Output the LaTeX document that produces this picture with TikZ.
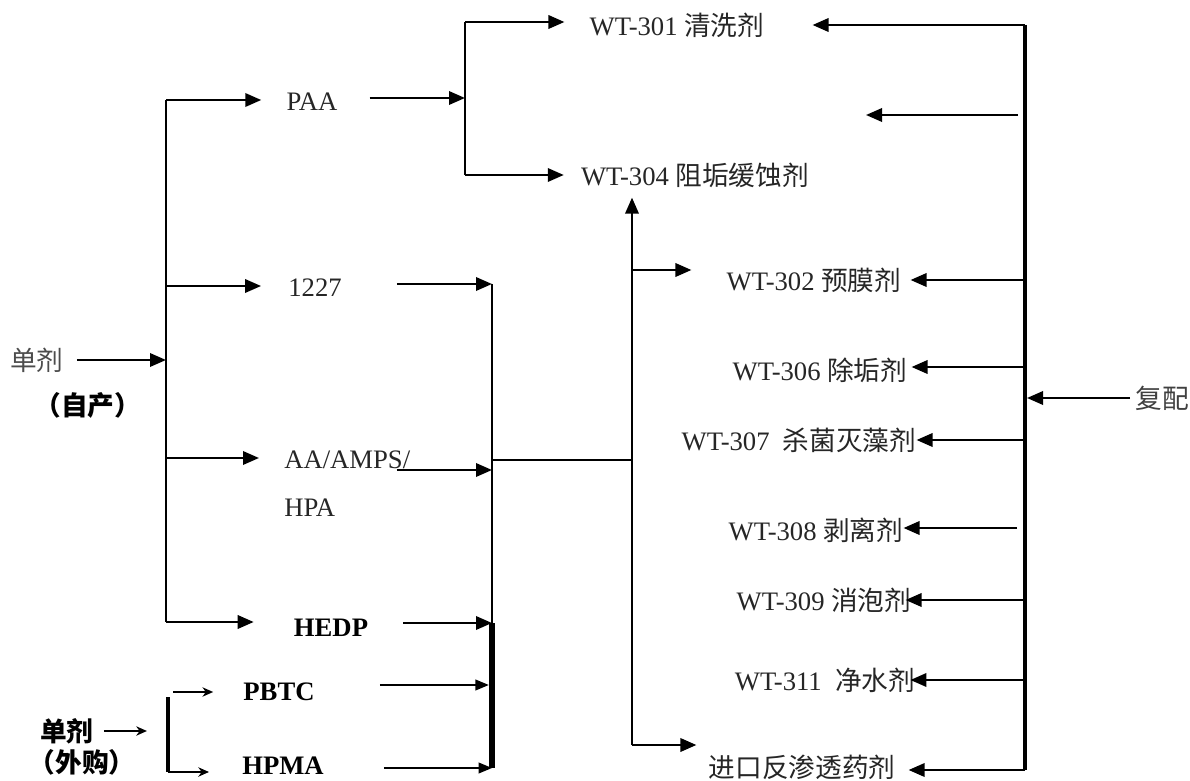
\documentclass[tikz,border=0pt]{standalone}
\usepackage{fontspec}
\setmainfont{Liberation Serif}
\newfontfamily\cjk{Noto Sans CJK SC}
\usetikzlibrary{arrows.meta,calc}
\begin{document}
\begin{tikzpicture}[x=0.75pt,y=-0.75pt,
  lbl/.style={inner sep=0pt,font=\fontsize{20}{24}\selectfont,text=black!85},
  blbl/.style={lbl,font=\fontsize{20}{24}\selectfont\bfseries,text=black},
  ln/.style={line width=1.8pt},
  thinln/.style={line width=1.2pt},
  arr/.style={ln,-{Triangle[length=12pt,width=10pt]}},
  sarr/.style={thinln,-{Triangle[length=10pt,width=8pt]}},
  oarr/.style={thinln,-{Stealth[length=8pt,width=7pt,inset=2.5pt]}}]
\useasboundingbox (0,0) rectangle (1190,781);
\fill[white] (0,0) rectangle (1190,781);

% ---------- labels ----------
\node[lbl,text=black!70] (dj) at (37,360) {\cjk 单剂};
\node[blbl] (zc) at (88,405) {\cjk （自产）};
\node[lbl] (paa) at (312,102) {PAA};
\node[lbl] (n1227) at (315,288) {1227};
\node[lbl,anchor=west] (aa) at (284,460) {AA/AMPS/};
\node[lbl,anchor=west] (hpa) at (284,508) {HPA};
\node[blbl] (hedp) at (331,628) {HEDP};
\node[blbl] (pbtc) at (279,692) {PBTC};
\node[blbl] (hpma) at (283,766) {HPMA};
\node[blbl] (dj2) at (67,731) {\cjk 单剂};
\node[blbl] (wg) at (82,762) {\cjk （外购）};

\node[lbl] (wt301) at (677,25) {WT-301 {\cjk 清洗剂}};
\node[lbl] (wt304) at (695,175) {WT-304 {\cjk 阻垢缓蚀剂}};
\node[lbl] (wt302) at (814,280) {WT-302 {\cjk 预膜剂}};
\node[lbl] (wt306) at (820,370) {WT-306 {\cjk 除垢剂}};
\node[lbl] (wt307) at (799,440) {WT-307\ \ {\cjk 杀菌灭藻剂}};
\node[lbl] (wt308) at (816,530) {WT-308 {\cjk 剥离剂}};
\node[lbl] (wt309) at (824,600) {WT-309 {\cjk 消泡剂}};
\node[lbl] (wt311) at (825,680) {WT-311\ \ {\cjk 净水剂}};
\node[lbl] (ro) at (802,767) {\cjk 进口反渗透药剂};
\node[lbl,text=black!75] (fp) at (1162,398) {\cjk 复配};

% ---------- coordinates ----------
\coordinate (Lt) at (166,100);
\coordinate (L2) at (166,286);
\coordinate (L3) at (166,458);
\coordinate (Lb) at (166,622);
\coordinate (Lin) at (166,360);

\coordinate (Mj) at (465,98);
\coordinate (Mt) at (465,22);
\coordinate (Mb) at (465,175);

\coordinate (Ct) at (492,284);
\coordinate (Ca) at (492,470);
\coordinate (Cm) at (492,460);
\coordinate (Ch) at (492,623);
\coordinate (Cb) at (492,768);

\coordinate (Dm) at (632,460);
\coordinate (D2) at (632,270);
\coordinate (Db) at (632,745);

\coordinate (Rt) at (1025,25);
\coordinate (Rb) at (1025,770);
\coordinate (Rx1) at (1018,115);
\coordinate (Rx2) at (866,115);
\coordinate (Rin) at (1027,398);

\coordinate (Bt) at (173,692);
\coordinate (Bv) at (168,697);
\coordinate (Bb) at (168,772);

\coordinate (s1227) at ($(n1227.east)+(55,0)$);
\coordinate (saa) at ($(aa.east)+(-14,0)$);
\coordinate (shedp) at ($(hedp.east)+(35,0)$);

% ---------- left tree ----------
\draw[arr] ($(dj.east)+(13,0)$) -- (Lin);
\draw[line width=2.2pt] (Lt) -- (Lb);
\draw[arr] (Lt) -- ($(Lt -| paa.west)+(-25,0)$);
\draw[arr] (L2) -- ($(L2 -| n1227.west)+(-27,0)$);
\draw[arr] (L3) -- ($(L3 -| aa.west)+(-25,0)$);
\draw[arr] (Lb) -- ($(Lb -| hedp.west)+(-40,0)$);

% ---------- PAA branch ----------
\draw[arr] ($(paa.east)+(32,-4)$) -- (Mj);
\draw[ln] (Mt) -- (Mb);
\draw[arr] (Mt) -- ($(Mt -| wt301.west)+(-25,0)$);
\draw[arr] (Mb) -- ($(Mb -| wt304.west)+(-17,0)$);

% ---------- collector column ----------
\draw[arr] (s1227 |- Ct) -- (Ct);
\draw[arr] (saa |- Ca) -- (Ca);
\draw[arr] (shedp |- Ch) -- (Ch);
\draw[sarr] ($(pbtc.east)+(65,-7)$) -- ($(pbtc.east)+(174,-7)$) coordinate (Cp);
\draw[sarr] ($(hpma.east)+(60,2)$) -- ($(hpma.east)+(168,2)$) coordinate (Cq);
\draw[ln] (Ct) -- (Ch);
\draw[line width=3.8pt] (Ch) -- (Cb);
\draw[line width=2.2pt] (Cm) -- (Dm);

% ---------- distribution column ----------
\draw[arr] (Db) -- ($(Db |- wt304.south)+(0,10)$);
\draw[arr] (D2) -- ($(D2 -| wt302.west)+(-35,0)$);
\draw[arr] (Db) -- ($(Db -| ro.west)+(-12,0)$);

% ---------- right column ----------
\draw[line width=2.4pt] (Rt) -- (Rb);
\draw[arr] (Rt) -- ($(Rt -| wt301.east)+(48,0)$);
\draw[arr] (Rx1) -- (Rx2);
\draw[arr] (Rt |- wt302) -- ($(wt302.east)+(9,0)$);
\draw[arr] ($(Rt |- wt306)+(0,-3)$) -- ($(wt306.east)+(4,-3)$);
\draw[arr] (Rt |- wt307) -- ($(wt307.east)+(0,0)$);
\draw[arr] ($(Rt |- wt308)+(-8,-2)$) -- ($(wt308.east)+(0,-2)$);
\draw[arr] (Rt |- wt309) -- ($(wt309.east)+(-6,0)$);
\draw[arr] (Rt |- wt311) -- ($(wt311.east)+(-5,0)$);
\draw[arr] (Rb) -- ($(Rb -| ro.east)+(13,0)$);
\draw[arr] ($(fp.west)+(-5,0)$) -- (Rin);

% ---------- purchased singles ----------
\draw[oarr] ($(dj2.east)+(10,0)$) -- ($(dj2.east)+(53,0)$);
\draw[oarr] (Bt) -- ($(Bt -| pbtc.west)+(-30,0)$);
\draw[line width=2.4pt] (Bv) -- (Bb);
\draw[oarr] (Bb) -- ($(Bb -| hpma.west)+(-33,0)$);
\end{tikzpicture}
\end{document}
